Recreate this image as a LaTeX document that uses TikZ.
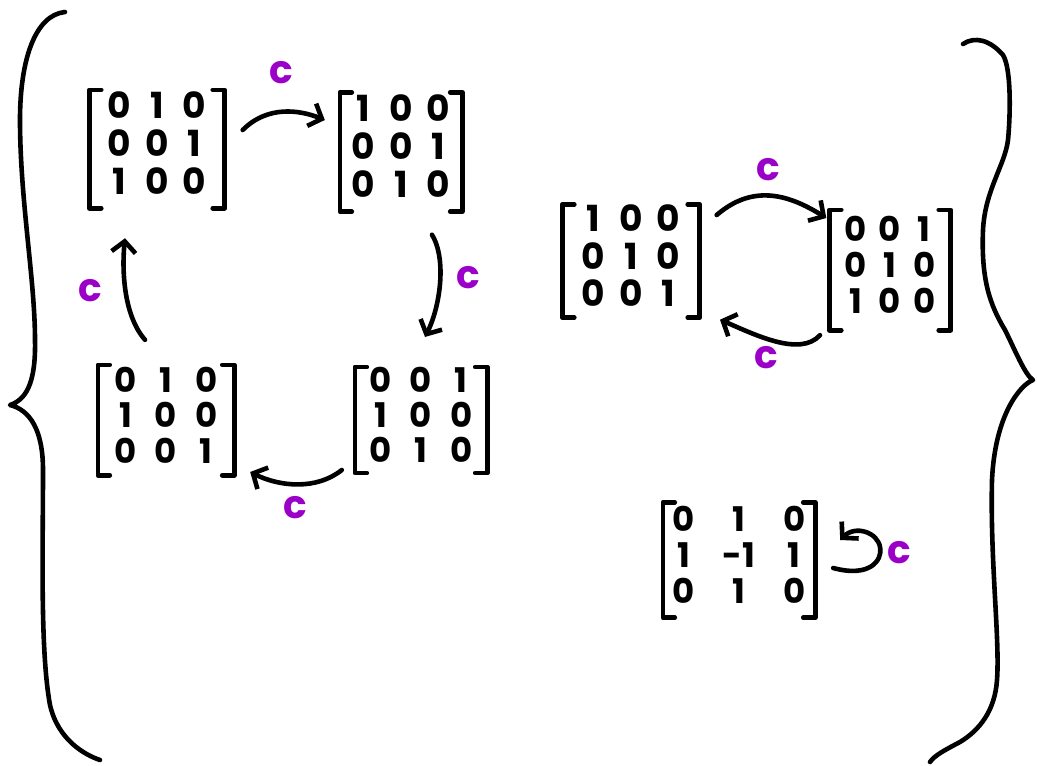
\documentclass[tikz,border=0pt]{standalone}
\usepackage{fontspec}
\setmainfont{Poppins}
\usetikzlibrary{arrows.meta}
\definecolor{cpurple}{RGB}{155,0,200}
% #1 column gap, #2 font size, #3 row distance, #4 entries
\newcommand\mtx[4]{\fontsize{#2}{#3}\selectfont\setlength\tabcolsep{#1}%
  \begin{tabular}{@{}ccc@{}}#4\end{tabular}}
% square brackets round a matrix node
\newcommand\brackets[1]{%
  \draw[ink] ([xshift=12pt]#1.north west) -- (#1.north west) -- (#1.south west) -- ([xshift=12pt]#1.south west);
  \draw[ink] ([xshift=-12pt]#1.north east) -- (#1.north east) -- (#1.south east) -- ([xshift=-12pt]#1.south east);}
\begin{document}
\begin{tikzpicture}[x=1pt,y=-1pt,line cap=round,line join=round,
  ink/.style={line width=4.6pt,black},
  arr/.style={ink,-{Straight Barb[length=11pt,width=24pt]}},
  mat/.style={inner sep=0pt,font=\bfseries},
  lbl/.style={text=cpurple,font=\bfseries\fontsize{39}{39}\selectfont}]
\useasboundingbox (0,0) rectangle (1037,766);

% outer braces
\draw[ink] (65,12) .. controls (35,15) and (20,60) .. (20,120)
  .. controls (20,200) and (35,280) .. (35,340)
  .. controls (36,385) and (25,400) .. (10,405)
  .. controls (30,410) and (43,430) .. (43,470)
  .. controls (43,550) and (40,650) .. (50,705)
  .. controls (58,740) and (85,755) .. (100,760);
\draw[ink] (963,44) .. controls (975,36) and (990,40) .. (1003,55)
  .. controls (1012,70) and (1010,120) .. (1008,140)
  .. controls (1005,165) and (985,190) .. (983,230)
  .. controls (981,280) and (990,305) .. (1005,330)
  .. controls (1015,350) and (1025,375) .. (1033,380)
  .. controls (1020,385) and (995,415) .. (992,480)
  .. controls (990,560) and (1000,640) .. (997,680)
  .. controls (995,710) and (980,730) .. (960,742)
  .. controls (945,750) and (935,755) .. (930,762);

% four-cycle
\node[mat,minimum width=135pt,minimum height=118pt] (m1) at (157,149)
  {\mtx{7pt}{36}{37}{0&1&0\\0&0&1\\1&0&0}};
\node[mat,minimum width=122pt,minimum height=119pt] (m2) at (401,152)
  {\mtx{7pt}{36}{37}{1&0&0\\0&0&1\\0&1&0}};
\node[mat,minimum width=132pt,minimum height=104pt] (m3) at (421,420)
  {\mtx{9pt}{34}{33}{0&0&1\\1&0&0\\0&1&0}};
\node[mat,minimum width=136pt,minimum height=110pt] (m4) at (166,420)
  {\mtx{9pt}{34}{34}{0&1&0\\1&0&0\\0&0&1}};
\foreach \m in {m1,m2,m3,m4} {\brackets{\m}}

\draw[arr] ([shift={(18,-19)}]m1.east) .. controls +(25,-25) and +(-25,-10) .. ([shift={(-15,-32)}]m2.west);
\draw[arr] ([shift={(31,23)}]m2.south) .. controls +(15,25) and +(15,-30) .. ([shift={(4,-30)}]m3.north);
\draw[arr] ([shift={(-13,50)}]m3.west) .. controls +(-25,20) and +(30,15) .. ([shift={(16,52)}]m4.east);
\draw[arr] ([shift={(-21,-25)}]m4.north) .. controls +(-22,-25) and +(-3,30) .. ([shift={(-32,30)}]m1.south);

\node[lbl] (c1) at (281,73) {c};
\node[lbl] (c2) at (468,278) {c};
\node[lbl] (c3) at (295,508) {c};
\node[lbl] (c4) at (90,291) {c};

% two-cycle
\node[mat,minimum width=137pt,minimum height=113pt] (m5) at (631,261)
  {\mtx{7pt}{36}{36}{1&0&0\\0&1&0\\0&0&1}};
\node[mat,minimum width=121pt,minimum height=120pt] (m6) at (890,270)
  {\mtx{6pt}{34}{35}{0&0&1\\0&1&0\\1&0&0}};
\foreach \m in {m5,m6} {\brackets{\m}}

\draw[arr] ([shift={(17,-46)}]m5.east) .. controls +(35,-30) and +(-40,-25) .. ([shift={(-3,-52)}]m6.west);
\draw[arr] ([shift={(-70,5)}]m6.south) .. controls +(-20,22) and +(35,15) .. ([shift={(89,2)}]m5.south);

\node[lbl] (c5) at (768,170) {c};
\node[lbl] (c6) at (766,358) {c};

% fixed point
\node[mat,minimum width=152pt,minimum height=115pt] (m7) at (739,560)
  {\mtx{14pt}{34}{36}{0&1&0\\1&-1&1\\0&1&0}};
\brackets{m7}
\draw[arr] ([shift={(18,8)}]m7.east)
  .. controls +(37,10) and +(2,12) .. ([shift={(65,-12)}]m7.east)
  .. controls +(-2,-16) and +(15,-15) .. ([shift={(25,-20)}]m7.east);
\node[lbl] (c7) at (899,553) {c};
\end{tikzpicture}
\end{document}
